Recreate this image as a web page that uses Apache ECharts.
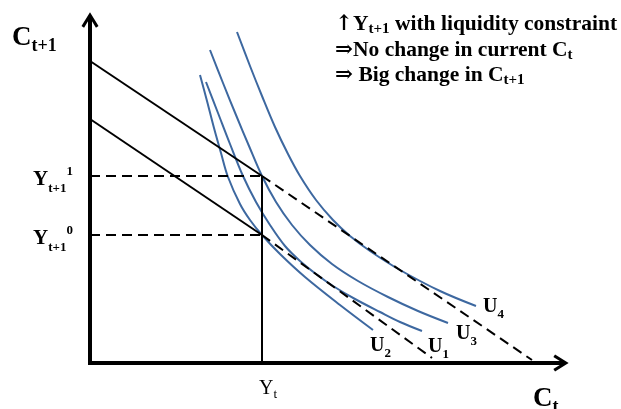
<!DOCTYPE html>
<html><head><meta charset="utf-8">
<script src="https://cdn.jsdelivr.net/npm/echarts@6/dist/echarts.min.js"></script>
<style>html,body{margin:0;padding:0;background:#fff}#c{width:621px;height:409px}</style>
</head><body><div id="c"></div>
<script>
// ---- data (plot units: x 0..471 along C_t, y 0..343 along C_t+1) ----
const budgetUpperSolid  = [[0, 302], [172, 187]];
const budgetUpperDashed = [[172, 187], [442, 3]];
const budgetLowerSolid  = [[0, 244], [172, 128]];
const budgetLowerDashed = [[172, 128], [342, 5]];
const incomeLevels = [187, 128];          // Y_{t+1}^1, Y_{t+1}^0
const incomeSup = ['1', '0'];
const currentIncome = 172;                // Y_t
const curveU2 = [[110,288],[117,262],[124,235],[131,210],[138,186],[150,159],[160,143],[172,128],[190,109],[215,86],[250,58],[283,33]];
const curveU1 = [[116,281],[128,250],[140,219],[153,187],[166,161],[180,138],[195,117],[210,102],[226,89],[243,77],[265,64],[290,51],[310,41],[332,32]];
const curveU3 = [[120,313],[133,280],[146,248],[159,217],[172,187],[186,161],[202,138],[220,118],[242,99],[268,82],[298,66],[328,52],[358,40]];
const curveU4 = [[147,331],[160,297],[172,267],[185,236],[198,209],[210,187],[226,163],[243,143],[260,127],[280,112],[310,93],[350,72],[386,57]];
const curveNames = ['2', '1', '3', '4'];
const curveLabelOffsets = [[-11, 16], [-2, 16], [0, 11], [-1, 1]];

const SERIF = '"Liberation Serif","Times New Roman",serif';
const BLUE = '#3D68A0';

function richSet(main, sub, sup, bold, L, hs, hp) {
  const w = bold ? 'bold' : 'normal';
  return {
    m: {fontSize: main, fontWeight: w, fontFamily: SERIF, color: '#000', lineHeight: L},
    s: {fontSize: sub, fontWeight: w, fontFamily: SERIF, color: '#000', lineHeight: hs, verticalAlign: 'bottom'},
    p: {fontSize: sup, fontWeight: w, fontFamily: SERIF, color: '#000', lineHeight: hp, verticalAlign: 'top'},
    a: {fontSize: main, fontWeight: w, fontFamily: '"DejaVu Serif","Liberation Serif",serif', color: '#000', lineHeight: L}
  };
}

function seg(data, dashed) {
  return {type: 'line', data: data, showSymbol: false, symbol: 'none', silent: true, z: 3,
    lineStyle: {color: '#000', width: 2, type: dashed ? [10, 6] : 'solid'}};
}

const series = [
  seg(budgetUpperSolid, false), seg(budgetUpperDashed, true),
  seg(budgetLowerSolid, false), seg(budgetLowerDashed, true)
];
incomeLevels.forEach(v => series.push(seg([[0, v], [currentIncome, v]], true)));
series.push(seg([[currentIncome, 0], [currentIncome, incomeLevels[0]]], false));
[curveU2, curveU1, curveU3, curveU4].forEach((c, i) => {
  series.push({type: 'line', data: c, showSymbol: false, symbol: 'none', smooth: 0.35, silent: true, z: 2,
    lineStyle: {color: BLUE, width: 2},
    endLabel: {show: true, distance: 8, offset: curveLabelOffsets[i], formatter: '{m|U}{s|' + curveNames[i] + '}',
      rich: richSet(20, 13, 13, true, 28, 14, 14)}});
});

const chevron = 'path://M10,0 L20,16 L17,18 L12,10 L12,18 L8,18 L8,10 L3,18 L0,16 Z';

const chart = echarts.init(document.getElementById('c'));
chart.setOption({
  animation: false,
  backgroundColor: '#fff',
  grid: {left: 90, top: 20, width: 471, height: 343},
  xAxis: {type: 'value', min: 0, max: 471, splitLine: {show: false}, axisTick: {show: false},
    axisLine: {lineStyle: {color: '#000', width: 4, cap: 'square'}, symbol: ['none', chevron], symbolSize: [17, 16]},
    axisLabel: {customValues: [currentIncome], margin: 14, padding: [0, 0, 0, 12], formatter: () => '{m|Y}{s|t}',
      rich: richSet(20, 13, 13, false, 24, 12, 12)}},
  yAxis: {type: 'value', min: 0, max: 343, splitLine: {show: false}, axisTick: {show: false},
    axisLine: {lineStyle: {color: '#000', width: 4, cap: 'square'}, symbol: ['none', chevron], symbolSize: [17, 16]},
    axisLabel: {customValues: incomeLevels, margin: 17, padding: [8, 0, 0, 0],
      formatter: v => '{m|Y}{s|t+1}{p|' + incomeSup[incomeLevels.indexOf(v)] + '}',
      rich: richSet(21, 13, 13, true, 30, 12, 27)}},
  graphic: [
    {type: 'text', left: 12, top: 25, style: {text: '{m|C}{s|t+1}', rich: richSet(27, 18, 18, true, 34, 20, 20)}},
    {type: 'text', left: 533, top: 386, style: {text: '{m|C}{s|t}', rich: richSet(27, 18, 18, true, 34, 20, 20)}},
    {type: 'text', left: 335, top: 13, style: {text: '{a|↑}{m|Y}{s|t+1}{m| with liquidity constraint}', rich: richSet(21.5, 15, 15, true, 26, 14, 14)}},
    {type: 'text', left: 335, top: 39, style: {text: '{a|⇒}{m|No change in current C}{s|t}', rich: richSet(21.5, 15, 15, true, 26, 14, 14)}},
    {type: 'text', left: 335, top: 64, style: {text: '{a|⇒}{m| Big change in C}{s|t+1}', rich: richSet(21.5, 15, 15, true, 26, 14, 14)}}
  ],
  series: series
});
</script>
</body></html>
